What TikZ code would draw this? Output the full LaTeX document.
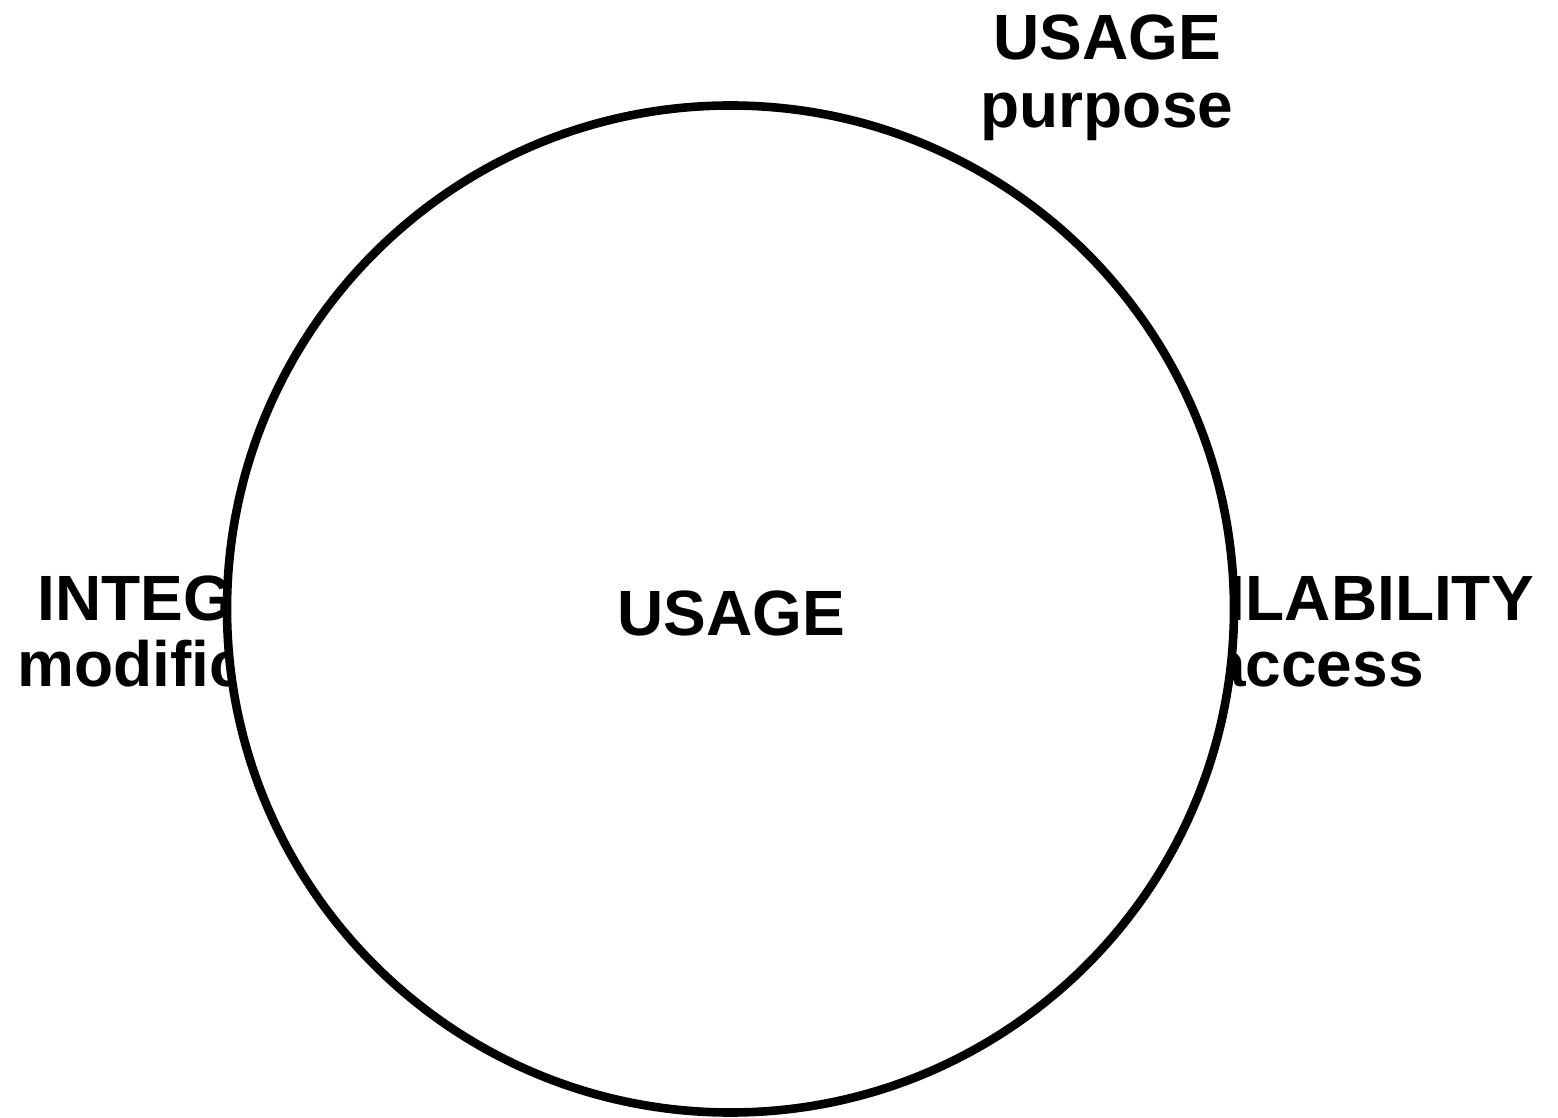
\documentclass[tikz,border=0pt]{standalone}
\usepackage{fontspec}
\setmainfont{Liberation Sans}
\begin{document}
\begin{tikzpicture}[x=0.5pt,y=-0.5pt,
  lbl/.style={font=\fontsize{32pt}{33pt}\selectfont\bfseries, inner sep=0pt, anchor=base}]
\useasboundingbox (0,0) rectangle (1558,1118);
% labels around the ring (partly hidden by the ring's white fill)
\node[lbl] (usageT) at (1107,60) {USAGE};
\node[lbl] (usageB) at (1107,128) {purpose};
\node[lbl] (integT) at (208,620) {INTEGRITY};
\node[lbl] (integB) at (208,686) {modification};
\node[lbl] (availT) at (1318,620) {AVAILABILITY};
\node[lbl] (availB) at (1317,686) {access};
% the ring
\draw[line width=4.3pt, fill=white] (730.5,609) circle [radius=503.5];
% centre label
\node[lbl] (centre) at (731,635) {USAGE};
\end{tikzpicture}
\end{document}
